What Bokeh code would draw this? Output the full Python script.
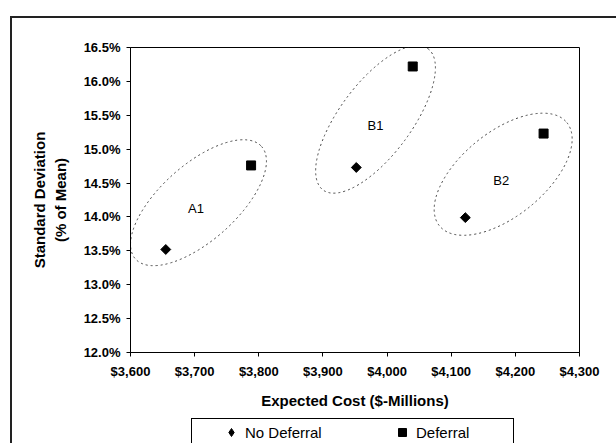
import math
from bokeh.plotting import figure
from bokeh.layouts import column
from bokeh.models import (Legend, LegendItem, NumeralTickFormatter,
                          SingleIntervalTicker, Range1d)
from bokeh.core.properties import value
from bokeh.embed import file_html
from bokeh.resources import INLINE

# ---- data ----
groups = ["A1", "B1", "B2"]
series_names = ["No Deferral", "Deferral"]
cost_no_deferral = [3655, 3952, 4122]
sd_no_deferral = [0.1352, 0.1473, 0.1399]
cost_deferral = [3788, 4040, 4244]
sd_deferral = [0.1476, 0.1622, 0.1523]
label_cost = [3702, 3982, 4178]
label_sd = [0.1413, 0.1535, 0.1454]
ellipse_cost = [3706, 3982, 4181]
ellipse_sd = [0.1421, 0.1544, 0.1463]

FONT = "Liberation Sans"

p = figure(width=616, height=413, output_backend="svg", toolbar_location=None,
           x_range=Range1d(3600, 4300), y_range=Range1d(0.12, 0.165),
           min_border_left=130, min_border_right=37, min_border_top=47, min_border_bottom=61)
p.xgrid.visible = False
p.ygrid.visible = False
p.outline_line_color = "black"
p.outline_line_width = 1
p.background_fill_color = "white"
p.border_fill_color = None

# chart-area frame (left/top edges inside the window), drawn behind the canvas
p.styles = {"background": ", ".join([
    "linear-gradient(#222,#222) 10px 16px / 2px calc(100% - 16px) no-repeat",
    "linear-gradient(#222,#222) 10px 16px / calc(100% - 10px) 2px no-repeat",
]) + ", #ffffff"}

# axes
p.xaxis.ticker = SingleIntervalTicker(interval=100)
p.yaxis.ticker = SingleIntervalTicker(interval=0.005)
p.xaxis.formatter = NumeralTickFormatter(format="$0,0")
p.yaxis.formatter = NumeralTickFormatter(format="0.0%")
for ax in (p.xaxis, p.yaxis):
    ax.axis_line_color = "black"
    ax.major_tick_line_color = "black"
    ax.minor_tick_line_color = None
    ax.major_tick_out = 4
    ax.major_tick_in = 0
    ax.major_label_text_font = FONT
    ax.major_label_text_font_style = "bold"
    ax.major_label_text_font_size = "13px"
    ax.major_label_text_color = "black"
    ax.axis_label_text_font = FONT
    ax.axis_label_text_font_style = "bold"
    ax.axis_label_text_font_size = "15px"
    ax.axis_label_text_color = "black"
p.xaxis.major_label_standoff = 7
p.yaxis.major_label_standoff = 6
p.xaxis.axis_label = "Expected Cost ($-Millions)"
p.xaxis.axis_label_standoff = 10
p.yaxis.axis_label = "Standard Deviation\n(% of Mean)"
p.yaxis.axis_label_standoff = 12

# ellipses
p.ellipse(x=ellipse_cost, y=ellipse_sd,
          width=[169, 176, 164], height=[76, 72, 84],
          angle=[math.radians(41.7), math.radians(53.4), math.radians(39)],
          width_units="screen", height_units="screen",
          fill_alpha=0, line_color="#444444", line_width=1, line_dash="2 3")

# points
p.scatter(cost_no_deferral, sd_no_deferral, marker="square", angle=math.pi / 4,
          size=7, fill_color="black", line_color="black")
p.scatter(cost_deferral, sd_deferral, marker="square", size=9,
          fill_color="black", line_color="black")

# group labels
p.text(x=label_cost, y=label_sd, text=groups, text_align="center", text_baseline="middle",
       text_font=value(FONT), text_font_size="13px", text_color="black")

# ---- legend strip below the chart ----
q = figure(width=616, height=30, output_backend="svg", toolbar_location=None,
           x_range=Range1d(0, 1), y_range=Range1d(0, 1),
           x_axis_location=None, y_axis_location=None, min_border=0)
q.grid.visible = False
q.outline_line_color = None
q.background_fill_color = None
q.border_fill_color = None
q.styles = {"background": ", ".join([
    "linear-gradient(#222,#222) 10px 0px / 2px 100% no-repeat",
    "linear-gradient(#000,#000) 191px 5px / 323px 1px no-repeat",
    "linear-gradient(#000,#000) 191px 5px / 1px 100% no-repeat",
    "linear-gradient(#000,#000) 513px 5px / 1px 100% no-repeat",
]) + ", #ffffff"}
# same series drawn in the strip (outside its ranges, so only the legend shows)
l1 = q.scatter(cost_no_deferral, sd_no_deferral, marker="diamond",
               fill_color="black", line_color="black")
l2 = q.scatter(cost_deferral, sd_deferral, marker="square",
               fill_color="black", line_color="black")
legend = Legend(items=[LegendItem(label=series_names[0], renderers=[l1]),
                       LegendItem(label=series_names[1], renderers=[l2])],
                orientation="horizontal", location=(91, 1),
                label_text_font=FONT, label_text_font_size="15px", label_text_color="black",
                glyph_width=20, glyph_height=20, label_standoff=4, label_width=80,
                spacing=67, padding=0, margin=0,
                border_line_color=None, background_fill_alpha=0)
q.add_layout(legend)

layout = column(p, q, spacing=0)
open("out.html", "w").write(file_html(layout, INLINE))
